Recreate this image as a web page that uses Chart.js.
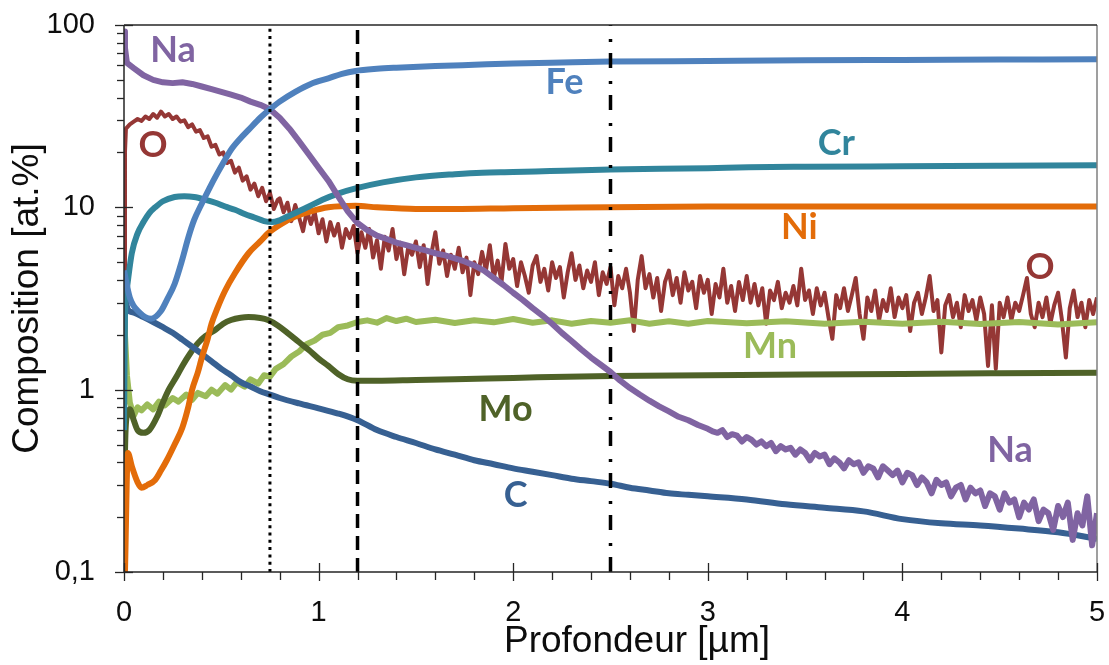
<!DOCTYPE html>
<html>
<head>
<meta charset="utf-8">
<script src="https://cdn.jsdelivr.net/npm/chart.js@4.4.1/dist/chart.umd.min.js"></script>
<style>
  html, body { margin: 0; padding: 0; background: #fff; }
</style>
</head>
<body>
<canvas id="profileChart" width="1109" height="665"></canvas>
<script>
(function() {
  'use strict';

  // Axis ticks
  const xTickVals = [0, 1, 2, 3, 4, 5];
  const xTickLabels = ['0', '1', '2', '3', '4', '5'];
  const yTickVals = [0.1, 1, 10, 100];
  const yTickLabels = ['0,1', '1', '10', '100'];

  // Interface positions (µm)
  const markDotted = 0.75;
  const markDashed = 1.2;
  const markDashDot = 2.5;

  // Profiles: [depth µm, at.%]
  const fe = [[0,4.5],[0.03,3.2],[0.08,2.65],[0.14,2.45],[0.19,2.7],[0.22,3.1],[0.26,3.8],[0.3,5.2],[0.33,6.8],[0.36,8.5],
    [0.4,10.5],[0.44,12.8],[0.48,15.4],[0.52,18.3],[0.55,20.7],[0.6,24],[0.64,26.6],[0.7,31],[0.75,34.5],[0.8,38],
    [0.88,43],[0.96,47.5],[1.05,51],[1.12,54],[1.19,56],[1.3,57.5],[1.4,58.3],[1.6,59.5],[1.8,60.5],[2,61.5],
    [2.25,62.3],[2.5,63],[3,63.5],[3.5,64],[4,64.3],[4.5,64.6],[5,64.8]];

  const na = [[0,92],[0.005,75],[0.015,62],[0.05,58],[0.1,53],[0.15,50],[0.2,48.5],[0.25,48],[0.3,48.5],[0.35,47.5],
    [0.4,46],[0.45,44.5],[0.5,43],[0.55,41.5],[0.6,40],[0.65,38],[0.7,36.5],[0.75,34.5],[0.8,31],[0.85,27],
    [0.9,23],[0.95,19.5],[1,16.5],[1.05,14],[1.1,11.5],[1.15,9.5],[1.2,8.2],[1.25,7.5],[1.3,7],[1.35,6.7],[1.4,6.4],
    [1.45,6.2],[1.5,6],[1.55,5.8],[1.6,5.6],[1.65,5.45],[1.7,5.25],[1.75,5.05],[1.8,4.8],[1.85,4.5],[1.9,4.1],
    [1.95,3.75],[2,3.4],[2.05,3.1],[2.1,2.8],[2.15,2.55],[2.2,2.3],[2.25,2.05],[2.3,1.85],[2.35,1.66],[2.4,1.5],
    [2.45,1.37],[2.5,1.25],[2.55,1.12],[2.6,1.02],[2.65,0.94],[2.7,0.87],[2.75,0.81],[2.8,0.76],[2.85,0.71],[2.9,0.68],
    [2.95,0.64],[3,0.61],[3.025,0.59],[3.05,0.58],[3.075,0.6],[3.1,0.55],[3.125,0.57],[3.15,0.56],[3.175,0.52],[3.2,0.55],
    [3.225,0.53],[3.25,0.5],[3.275,0.52],[3.3,0.49],[3.325,0.51],[3.35,0.46],[3.375,0.49],[3.4,0.47],[3.425,0.48],[3.45,0.44],
    [3.475,0.47],[3.5,0.45],[3.525,0.41],[3.55,0.45],[3.575,0.43],[3.6,0.44],[3.625,0.39],[3.65,0.42],[3.675,0.4],[3.7,0.37],
    [3.725,0.41],[3.75,0.39],[3.775,0.4],[3.8,0.35],[3.825,0.38],[3.85,0.37],[3.875,0.33],[3.9,0.38],[3.925,0.36],[3.95,0.34],
    [3.975,0.36],[4,0.31],[4.025,0.35],[4.05,0.34],[4.075,0.3],[4.1,0.33],[4.125,0.31],[4.15,0.27],[4.175,0.32],[4.2,0.3],
    [4.225,0.31],[4.25,0.26],[4.275,0.29],[4.3,0.3],[4.325,0.25],[4.35,0.29],[4.375,0.27],[4.4,0.28],[4.425,0.23],[4.45,0.27],
    [4.475,0.26],[4.5,0.22],[4.525,0.27],[4.55,0.24],[4.575,0.25],[4.6,0.2],[4.625,0.24],[4.65,0.22],[4.675,0.25],[4.7,0.19],
    [4.725,0.22],[4.75,0.21],[4.775,0.17],[4.8,0.23],[4.825,0.2],[4.85,0.24],[4.875,0.15],[4.9,0.21],[4.925,0.18],[4.95,0.26],
    [4.975,0.14],[5,0.21]];

  const cr = [[0,0.6],[0.005,2.5],[0.015,3.6],[0.04,5.6],[0.07,7.2],[0.1,8.3],[0.13,9.3],[0.16,10],[0.2,10.8],[0.26,11.4],
    [0.31,11.5],[0.36,11.4],[0.42,11],[0.47,10.6],[0.52,10.1],[0.57,9.7],[0.62,9.2],[0.67,8.8],[0.72,8.4],[0.76,8.3],
    [0.8,8.5],[0.84,8.9],[0.88,9.3],[0.95,10.1],[1.02,11],[1.1,11.9],[1.19,12.7],[1.33,13.7],[1.5,14.6],[1.7,15.2],
    [1.84,15.5],[2,15.6],[2.19,15.8],[2.5,16.1],[3,16.4],[3.21,16.6],[3.5,16.7],[4,16.8],[4.5,16.9],[5,17]];

  const ni = [[0.005,0.1],[0.02,0.45],[0.04,0.38],[0.07,0.31],[0.09,0.29],[0.12,0.3],[0.16,0.32],[0.19,0.36],[0.22,0.41],[0.26,0.5],
    [0.3,0.62],[0.33,0.8],[0.35,1],[0.38,1.25],[0.4,1.5],[0.43,1.9],[0.45,2.3],[0.48,2.8],[0.52,3.5],[0.57,4.35],
    [0.64,5.6],[0.7,6.5],[0.74,7.2],[0.8,8],[0.88,8.9],[0.96,9.5],[1.05,10],[1.19,10.2],[1.3,10],[1.5,9.8],
    [1.7,9.8],[2,9.9],[2.5,10],[3,10.1],[3.5,10.1],[4,10.1],[4.5,10.1],[5,10.1]];

  const c = [[0,3.6],[0.02,2.75],[0.05,2.65],[0.1,2.5],[0.15,2.35],[0.2,2.2],[0.25,2.05],[0.3,1.88],[0.35,1.72],[0.4,1.57],
    [0.45,1.43],[0.5,1.3],[0.55,1.2],[0.6,1.1],[0.65,1.04],[0.7,0.98],[0.75,0.94],[0.8,0.9],[0.9,0.84],[1,0.79],
    [1.1,0.74],[1.2,0.68],[1.3,0.6],[1.4,0.55],[1.5,0.51],[1.6,0.47],[1.7,0.44],[1.8,0.41],[1.9,0.39],[2,0.37],
    [2.1,0.355],[2.2,0.34],[2.3,0.325],[2.4,0.315],[2.5,0.305],[2.6,0.29],[2.7,0.28],[2.8,0.27],[2.9,0.265],[3,0.26],
    [3.2,0.25],[3.4,0.235],[3.6,0.225],[3.8,0.215],[4,0.195],[4.2,0.185],[4.4,0.18],[4.6,0.173],[4.8,0.165],[5,0.152]];

  const mo = [[0,0.1],[0.005,0.45],[0.015,0.72],[0.03,0.78],[0.05,0.68],[0.07,0.6],[0.1,0.58],[0.13,0.6],[0.17,0.71],[0.2,0.85],
    [0.23,1],[0.27,1.18],[0.3,1.35],[0.34,1.58],[0.38,1.8],[0.42,1.97],[0.47,2.13],[0.51,2.3],[0.55,2.41],[0.6,2.48],
    [0.64,2.5],[0.7,2.47],[0.74,2.41],[0.79,2.25],[0.84,2.05],[0.9,1.82],[0.95,1.65],[1,1.48],[1.05,1.35],[1.1,1.22],
    [1.15,1.14],[1.2,1.12],[1.3,1.12],[1.5,1.13],[1.7,1.14],[2,1.16],[2.5,1.19],[3,1.2],[3.5,1.21],[4,1.22],
    [4.5,1.23],[5,1.24]];

  const mn = [[0,3],[0.005,2],[0.015,1.2],[0.03,0.85],[0.05,0.72],[0.07,0.8],[0.09,0.77],[0.12,0.83],[0.15,0.78],[0.18,0.86],
    [0.21,0.82],[0.25,0.9],[0.28,0.86],[0.32,0.94],[0.35,0.88],[0.38,0.96],[0.42,0.92],[0.45,1],[0.48,0.95],[0.52,1.06],
    [0.55,1],[0.58,1.1],[0.62,1.04],[0.65,1.14],[0.69,1.08],[0.72,1.2],[0.75,1.18],[0.78,1.3],[0.82,1.38],[0.86,1.52],
    [0.9,1.62],[0.94,1.78],[0.98,1.86],[1.02,2],[1.06,2.05],[1.1,2.2],[1.15,2.25],[1.2,2.35],[1.25,2.4],[1.3,2.33],
    [1.35,2.47],[1.4,2.38],[1.45,2.45],[1.5,2.35],[1.6,2.42],[1.7,2.32],[1.8,2.4],[1.9,2.34],[2,2.44],[2.1,2.33],
    [2.2,2.4],[2.3,2.3],[2.4,2.38],[2.5,2.33],[2.6,2.4],[2.7,2.3],[2.8,2.37],[2.9,2.3],[3,2.38],[3.2,2.31],
    [3.4,2.37],[3.6,2.3],[3.8,2.36],[4,2.3],[4.2,2.36],[4.4,2.29],[4.6,2.35],[4.8,2.28],[5,2.34]];

  const o = [[0,0.1],[0.005,20],[0.01,27],[0.03,28.5],[0.05,29.5],[0.07,30.5],[0.09,29.8],[0.11,31.5],[0.13,30.5],[0.15,32.5],
    [0.17,31],[0.19,33.5],[0.21,31.5],[0.23,32.5],[0.25,30.5],[0.27,31.5],[0.29,29.5],[0.31,30],[0.33,27.5],[0.35,28.5],
    [0.37,26],[0.39,26.5],[0.41,24],[0.43,24.5],[0.45,21.5],[0.47,22],[0.49,19.5],[0.51,20],[0.53,17.5],[0.55,18],
    [0.57,15.5],[0.59,16.5],[0.61,14],[0.63,14.8],[0.65,12.5],[0.67,13.5],[0.69,11.5],[0.71,12.8],[0.73,10.8],[0.75,12],
    [0.77,9.8],[0.79,11],
    [0.8,11.2],[0.82,9.4],[0.84,10.6],[0.86,8.4],[0.88,10.3],[0.9,8.8],[0.92,7.4],[0.94,9.6],[0.96,8.1],[0.98,9.4],
    [1,7.2],[1.02,8.6],[1.04,6.5],[1.06,8.3],[1.08,7],[1.1,8.1],[1.12,6],[1.14,7.6],[1.16,6.8],[1.18,7.9],
    [1.2,5.6],[1.22,7.3],[1.24,6],[1.26,7.6],[1.28,5.3],[1.3,6.6],[1.32,4.6],[1.34,6.9],[1.36,5.8],[1.38,7.6],
    [1.4,5.2],[1.42,6.4],[1.44,4.3],[1.46,6],[1.48,5.5],[1.5,6.5],[1.52,4.7],[1.54,6.2],[1.56,3.8],[1.58,5.6],
    [1.6,7.3],[1.62,4.9],[1.64,5.8],[1.66,4.2],[1.68,5.5],[1.7,4.6],[1.72,6],[1.74,4.4],[1.76,5.3],[1.78,3.3],
    [1.8,5],[1.82,4.3],[1.84,5.7],[1.86,4.5],[1.88,6.2],[1.9,4.1],[1.92,5.1],[1.94,3.9],[1.96,6.3],[1.98,4.6],
    [2,5.2],[2.02,3.7],[2.04,5],[2.06,4.2],[2.08,3.4],[2.1,4.8],[2.12,5.4],[2.14,3.9],[2.16,4.6],[2.18,3.5],
    [2.2,5],[2.22,4.1],[2.24,4.7],[2.26,3.2],[2.28,4.4],[2.3,5.6],[2.32,4],[2.34,4.8],[2.36,3.6],[2.38,4.5],
    [2.4,3.9],[2.42,5],[2.44,3.3],[2.46,4.4],[2.48,3.8],[2.5,4.7],[2.52,2.9],[2.54,4.2],[2.56,3.6],[2.58,4.6],
    [2.6,3.4],[2.62,2.1],[2.64,4],[2.66,5.4],[2.68,3.6],[2.7,4.3],[2.72,3.2],[2.74,4.1],[2.76,2.7],[2.78,3.9],
    [2.8,4.5],[2.82,3.3],[2.84,4.1],[2.86,3],[2.88,4.4],[2.9,3.5],[2.92,3.9],[2.94,2.8],[2.96,4.2],[2.98,3.4],
    [3,4],[3.02,2.6],[3.04,3.8],[3.06,3.2],[3.08,4.6],[3.1,3],[3.12,3.7],[3.14,2.7],[3.16,3.9],[3.18,3.1],
    [3.2,4.2],[3.22,3],[3.24,3.8],[3.26,2.9],[3.28,3.6],[3.3,2.3],[3.32,3.5],[3.34,3.1],[3.36,3.9],[3.38,2.8],
    [3.4,3.4],[3.42,3],[3.44,3.7],[3.46,2.9],[3.48,4.6],[3.5,3.1],[3.52,3.5],[3.54,2.6],[3.56,3.6],[3.58,2.9],
    [3.6,3.4],[3.62,2.5],[3.64,1.9],[3.66,3.3],[3.68,2.8],[3.7,3.6],[3.72,2.7],[3.74,3.3],[3.76,4.1],[3.78,2.6],
    [3.8,1.9],[3.82,3.2],[3.84,2.7],[3.86,3.5],[3.88,2.4],[3.9,3.1],[3.92,2.7],[3.94,3.6],[3.96,2.5],[3.98,3.2],
    [4,2.8],[4.02,3.3],[4.04,2.1],[4.06,3],[4.08,3.4],[4.1,2.6],[4.12,3.2],[4.14,4.2],[4.16,2.7],[4.18,3.1],
    [4.2,1.6],[4.22,2.9],[4.24,3.3],[4.26,2.5],[4.28,3],[4.3,2.2],[4.32,3.3],[4.34,2.7],[4.36,3.1],[4.38,2.4],
    [4.4,3.2],[4.42,2.6],[4.44,1.35],[4.46,2.9],[4.48,1.3],[4.5,3],[4.52,2.5],[4.54,3.2],[4.56,2.4],[4.58,3],
    [4.6,2.7],[4.62,3.3],[4.64,4.1],[4.66,2.6],[4.68,2.2],[4.7,3],[4.72,2.5],[4.74,3.2],[4.76,2.3],[4.78,2.9],
    [4.8,3.4],[4.82,2.4],[4.84,1.5],[4.86,2.8],[4.88,3.5],[4.9,2.5],[4.92,3],[4.94,2.2],[4.96,3.1],[4.98,2.6],
    [5,3.2]];

  // In-plot element labels: [text, depth, value, colour]
  const tags = [
    ['Na', 0.252, 72.9, '#8064A2'],
    ['O', 0.149, 22.0, '#953735'],
    ['Fe', 2.264, 48.7, '#4F81BD'],
    ['Cr', 3.66, 22.5, '#31859C'],
    ['Ni', 3.47, 7.81, '#E36C09'],
    ['O', 4.707, 4.71, '#953735'],
    ['Mn', 3.32, 1.737, '#9BBB59'],
    ['Mo', 1.961, 0.783, '#4F6228'],
    ['C', 2.012, 0.264, '#376092'],
    ['Na', 4.553, 0.467, '#8064A2']
  ];

  const AXIS_FONT = "'Liberation Sans', Arial, sans-serif";

  function pts(arr) {
    return arr.map(p => ({ x: p[0], y: p[1] }));
  }

  function profile(label, arr, color, width, smooth) {
    return {
      label: label,
      data: pts(arr),
      borderColor: color,
      borderWidth: width,
      borderJoinStyle: 'round',
      pointRadius: 0,
      fill: false,
      cubicInterpolationMode: smooth ? 'monotone' : 'default',
      tension: 0
    };
  }

  function marker(depth, dash, width) {
    return {
      label: 'mark' + depth,
      data: [{ x: depth, y: 0.1 }, { x: depth, y: 100 }],
      borderColor: '#000',
      borderWidth: width,
      borderDash: dash,
      pointRadius: 0,
      fill: false
    };
  }

  // Ticks, frame, x title and element labels
  const decor = {
    id: 'decor',
    afterDraw(chart) {
      const ctx = chart.ctx;
      const xs = chart.scales.x, ys = chart.scales.y;
      const L = chart.chartArea.left, R = chart.chartArea.right;
      const T = chart.chartArea.top, B = chart.chartArea.bottom;
      ctx.save();

      // frame
      ctx.lineWidth = 1.5;
      ctx.strokeStyle = '#7f7f7f';
      ctx.beginPath(); ctx.moveTo(R, T); ctx.lineTo(R, B); ctx.stroke();
      ctx.strokeStyle = '#262626';
      ctx.beginPath(); ctx.moveTo(L, T); ctx.lineTo(R, T); ctx.stroke();
      ctx.beginPath(); ctx.moveTo(L, T); ctx.lineTo(L, B); ctx.lineTo(R, B); ctx.stroke();

      // y ticks
      ctx.lineWidth = 1.3;
      yTickVals.forEach(d => {
        const py = Math.round(ys.getPixelForValue(d)) + 0.5;
        ctx.beginPath(); ctx.moveTo(L - 9, py); ctx.lineTo(L + 9, py); ctx.stroke();
        if (d < 100) {
          for (let m = 2; m <= 9; m++) {
            const q = Math.round(ys.getPixelForValue(d * m)) + 0.5;
            ctx.beginPath(); ctx.moveTo(L - 7, q); ctx.lineTo(L, q); ctx.stroke();
          }
        }
      });

      // x ticks
      for (let i = 0; i <= 25; i++) {
        const px = Math.round(xs.getPixelForValue(i / 5)) + 0.5;
        ctx.beginPath();
        if (i % 5 === 0) { ctx.moveTo(px, B - 9); ctx.lineTo(px, B + 9); }
        else { ctx.moveTo(px, B); ctx.lineTo(px, B + 8); }
        ctx.stroke();
      }

      // x title
      ctx.fillStyle = '#0d0d0d';
      ctx.font = '37px ' + AXIS_FONT;
      ctx.textAlign = 'center';
      ctx.textBaseline = 'alphabetic';
      ctx.fillText('Profondeur [µm]', 637, 652);

      // element labels
      ctx.font = "bold 36px Lato, 'Open Sans', sans-serif";
      ctx.textBaseline = 'middle';
      tags.forEach(t => {
        ctx.fillStyle = t[3];
        ctx.fillText(t[0], xs.getPixelForValue(t[1]), ys.getPixelForValue(t[2]));
      });
      ctx.restore();
    }
  };

  const canvas = document.getElementById('profileChart');
  new Chart(canvas.getContext('2d'), {
    type: 'line',
    data: {
      datasets: [
        marker(markDotted, [3, 4.3], 3),
        marker(markDashed, [14, 8], 3.5),
        marker(markDashDot, [15, 11, 3, 13], 3.5),
        profile('Fe', fe, '#4F81BD', 6, true),
        profile('Na', na, '#8064A2', 6, false),
        profile('Cr', cr, '#31859C', 6, true),
        profile('Ni', ni, '#E36C09', 6, true),
        profile('C', c, '#376092', 6, true),
        profile('Mo', mo, '#4F6228', 6, true),
        profile('Mn', mn, '#9BBB59', 6, false),
        profile('O', o, '#953735', 4, false)
      ]
    },
    options: {
      responsive: false,
      animation: false,
      devicePixelRatio: 1,
      layout: { padding: { top: 25, right: 12, left: 0, bottom: 0 } },
      plugins: { legend: { display: false }, tooltip: { enabled: false } },
      scales: {
        x: {
          type: 'linear',
          min: 0,
          max: 5,
          afterBuildTicks: s => { s.ticks = xTickVals.map(v => ({ value: v })); },
          afterFit: s => { s.height = 93; s.paddingLeft = 0; s.paddingRight = 0; },
          grid: { display: false, drawTicks: false },
          border: { display: false },
          ticks: {
            autoSkip: false,
            maxRotation: 0,
            padding: 24,
            color: '#0d0d0d',
            font: { family: AXIS_FONT, size: 29 },
            callback: (v, i) => xTickLabels[i]
          }
        },
        y: {
          type: 'logarithmic',
          min: 0.1,
          max: 100,
          afterBuildTicks: s => { s.ticks = yTickVals.map(v => ({ value: v })); },
          afterFit: s => { s.width = 124; s.paddingTop = 0; s.paddingBottom = 0; },
          grid: { display: false, drawTicks: false },
          border: { display: false },
          ticks: {
            autoSkip: false,
            padding: 29,
            color: '#0d0d0d',
            font: { family: AXIS_FONT, size: 29 },
            callback: (v, i) => yTickLabels[i]
          },
          title: {
            display: true,
            text: 'Composition [at.%]',
            color: '#0d0d0d',
            font: { family: AXIS_FONT, size: 37 },
            padding: { top: 6, bottom: 0 }
          }
        }
      }
    },
    plugins: [decor]
  });
})();
</script>
</body>
</html>
